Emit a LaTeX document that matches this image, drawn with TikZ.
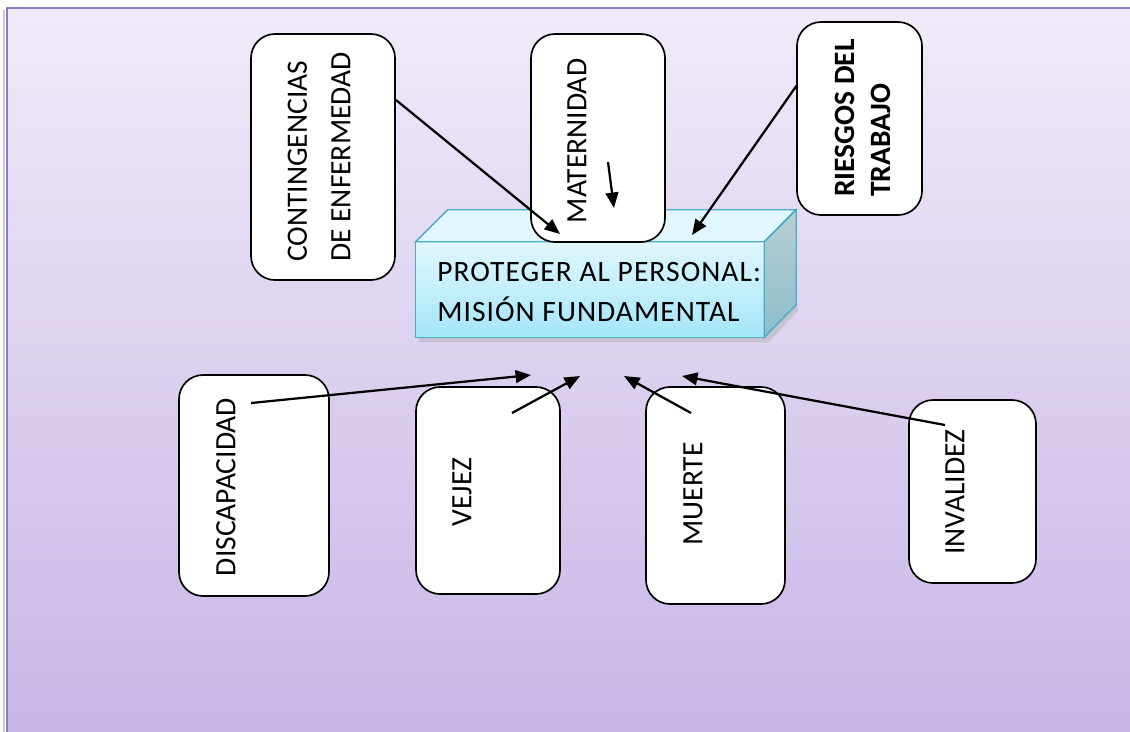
\documentclass[tikz,border=0pt]{standalone}
\usepackage{fontspec}
\setmainfont{Carlito}
\newfontfamily\widefont[LetterSpace=3.5]{Carlito}
\usetikzlibrary{arrows.meta,calc,fit,positioning}
\definecolor{bgtop}{RGB}{240,234,249}
\definecolor{bgbot}{RGB}{200,182,231}
\definecolor{bgline}{RGB}{142,124,195}
\definecolor{facetop}{RGB}{224,247,253}
\definecolor{frontbot}{RGB}{164,230,249}
\definecolor{sidetop}{RGB}{184,206,212}
\definecolor{sidebot}{RGB}{140,190,204}
\definecolor{cubeline}{RGB}{75,172,198}

\begin{document}
\begin{tikzpicture}[
  x=0.025cm, y=-0.025cm,
  box/.style={draw, line width=1.2pt, rounded corners=0.6cm, fill=white, inner sep=0pt},
  vlabel/.style={rotate=90, font=\fontsize{21}{31}\selectfont, align=left, inner sep=0pt},
  link/.style={-{Triangle[length=11pt,width=9pt]}, line width=1.6pt},
  >=Stealth
]
  \useasboundingbox (0,0) rectangle (1130,731);
  % background panel
  \shade[top color=bgtop, bottom color=bgbot] (7,8) rectangle (1132,733);
  \draw[black!20, line width=2pt] (4,733) -- (4,10);
  \draw[bgline, line width=1.4pt] (7,733) -- (7,8) -- (1132,8);

  % central block
  \node[fit={(416,242) (764,337)}, inner sep=0pt] (goal) {};
  \fill[black!30, opacity=0.5] ($(goal.south west)+(2,0)$) -- ($(goal.south west)+(4,5)$)
    -- ($(goal.south east)+(4,5)$) -- ($(goal.south east)+(34,-27)$) -- ($(goal.south east)+(32,-32)$) -- cycle;
  \shade[top color=facetop, bottom color=frontbot, draw=cubeline, line width=1pt]
    (goal.south west) rectangle (goal.north east);
  \filldraw[fill=facetop, draw=cubeline, line width=1pt]
    (goal.north west) -- ++(32,-32) -- ++(348,0) -- (goal.north east) -- cycle;
  \shade[top color=sidetop, bottom color=sidebot, draw=cubeline, line width=1pt]
    (goal.north east) -- ++(32,-32) -- ++(0,95) -- (goal.south east) -- cycle;
  \node[anchor=west, font=\widefont\fontsize{21}{28.4}\selectfont, align=left, inner sep=0pt]
    (goaltxt) at (437,292) {PROTEGER AL PERSONAL:\\MISIÓN FUNDAMENTAL};

  % upper boxes
  \node[box, fit={(251,34) (395,280)}] (cont) {};
  \node[box, fit={(531,34) (665,242)}] (mat) {};
  \node[box, fit={(797,22) (922,215)}] (ries) {};
  \node[vlabel] (conttxt) at (319,157) {CONTINGENCIAS\\DE ENFERMEDAD};
  \node[vlabel] (mattxt) at (577,141) {MATERNIDAD};
  \node[vlabel, font=\fontsize{21}{26}\selectfont\bfseries] (riestxt) at (863,118) {RIESGOS DEL\\TRABAJO};

  % lower boxes
  \node[box, fit={(179,375) (329,596)}] (disc) {};
  \node[box, fit={(416,387) (560,594)}] (vej) {};
  \node[box, fit={(646,387) (785,604)}] (mue) {};
  \node[box, fit={(909,400) (1036,583)}] (inv) {};
  \node[vlabel] (disctxt) at (226,487) {DISCAPACIDAD};
  \node[vlabel] (vejtxt) at (462,492) {VEJEZ};
  \node[vlabel] (muetxt) at (693,494) {MUERTE};
  \node[vlabel] (invtxt) at (955,492) {INVALIDEZ};

  % arrow ends
  \coordinate (c1) at (396,100);  \coordinate (c2) at (560,234);
  \coordinate (m1) at (608,162);  \coordinate (m2) at (614,208);
  \coordinate (r1) at (797,85);   \coordinate (r2) at (692,235);
  \coordinate (d1) at (251,403);  \coordinate (d2) at (531,375);
  \coordinate (v1) at (512,413);  \coordinate (v2) at (580,376);
  \coordinate (u1) at (691,413);  \coordinate (u2) at (624,376);
  \coordinate (i1) at (945,425);  \coordinate (i2) at (682,376);

  \draw[link] (c1) -- (c2);
  \draw[link] (m1) -- (m2);
  \draw[link] (r1) -- (r2);
  \draw[link] (d1) -- (d2);
  \draw[link] (v1) -- (v2);
  \draw[link] (u1) -- (u2);
  \draw[link] (i1) -- (i2);
\end{tikzpicture}
\end{document}
